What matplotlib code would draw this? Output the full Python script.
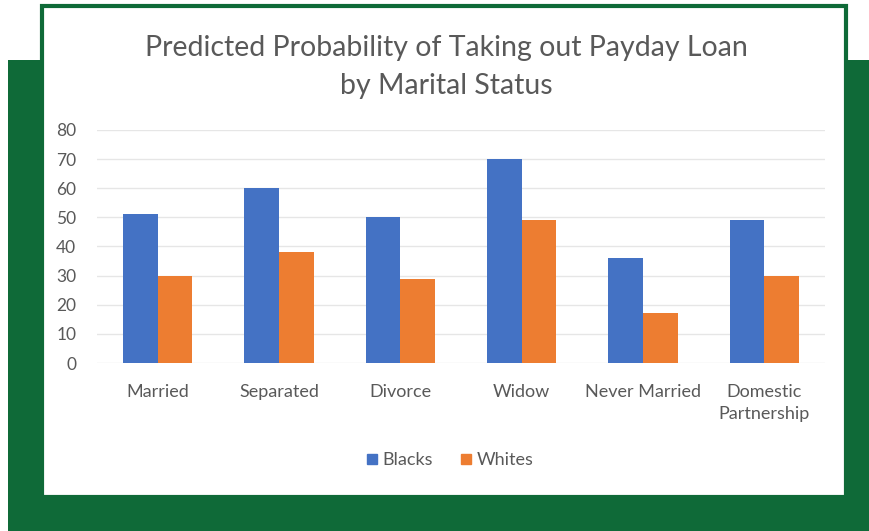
import matplotlib.pyplot as plt
import numpy as np
from matplotlib.patches import Rectangle
from matplotlib.lines import Line2D

# Predicted probability (%) by marital status
categories = ['Married', 'Separated', 'Divorce', 'Widow', 'Never Married', 'Domestic\nPartnership']
blacks = [51, 60, 50, 70, 36, 49]
whites = [30, 38, 29, 49, 17, 30]
yticks = [0, 10, 20, 30, 40, 50, 60, 70, 80]

blue = '#4472C4'
orange = '#ED7D31'
green = '#0F6A38'
text_gray = '#595959'

plt.rcParams['font.family'] = ['Lato', 'DejaVu Sans']

W, H = 870, 531
fig = plt.figure(figsize=(W / 100, H / 100), dpi=100)
fig.patch.set_facecolor('white')

# green backdrop and white card (pixel boxes converted to figure fractions)
def px_rect(x0, y0, x1, y1, **kw):
    r = Rectangle((x0 / W, 1 - y1 / H), (x1 - x0) / W, (y1 - y0) / H,
                  transform=fig.transFigure, **kw)
    fig.patches.append(r)

px_rect(8, 60, 870, 531, facecolor=green, edgecolor='none', zorder=0)
px_rect(42, 6, 846, 497, facecolor='white', edgecolor=green, linewidth=3, zorder=1)

ax = fig.add_axes([97 / W, 1 - 363 / H, 728 / W, 233 / H])
ax.set_zorder(2)
ax.patch.set_alpha(0)

x = np.arange(len(categories))
bw = 0.285
ax.bar(x - bw / 2, blacks, bw, color=blue, label='Blacks', zorder=3)
ax.bar(x + bw / 2, whites, bw, color=orange, label='Whites', zorder=3)

ax.set_xlim(-0.5, len(categories) - 0.5)
ax.set_ylim(0, 80)
ax.set_yticks(yticks)
ax.set_xticks(x)
ax.set_xticklabels(categories, fontsize=13, color=text_gray, linespacing=1.5)
ax.tick_params(axis='y', labelsize=12.5, labelcolor=text_gray, length=0, pad=15)
ax.tick_params(axis='x', length=0, pad=15)
ax.grid(axis='y', color='#E6E6E6', linewidth=1, zorder=0)
for s in ax.spines.values():
    s.set_visible(False)

fig.text(446 / W, 1 - 67 / H, 'Predicted Probability of Taking out Payday Loan\nby Marital Status',
         ha='center', va='center', fontsize=20.5, color=text_gray, linespacing=1.6)

handles = [Line2D([], [], marker='s', linestyle='none', markersize=7, color=blue),
           Line2D([], [], marker='s', linestyle='none', markersize=7, color=orange)]
fig.legend(handles, ['Blacks', 'Whites'], loc='center', bbox_to_anchor=(448 / W, 1 - 460 / H),
           ncol=2, frameon=False, fontsize=13, labelcolor=text_gray,
           handletextpad=0.1, columnspacing=1.3, handlelength=1.0)

plt.savefig('out.png', dpi=100)
